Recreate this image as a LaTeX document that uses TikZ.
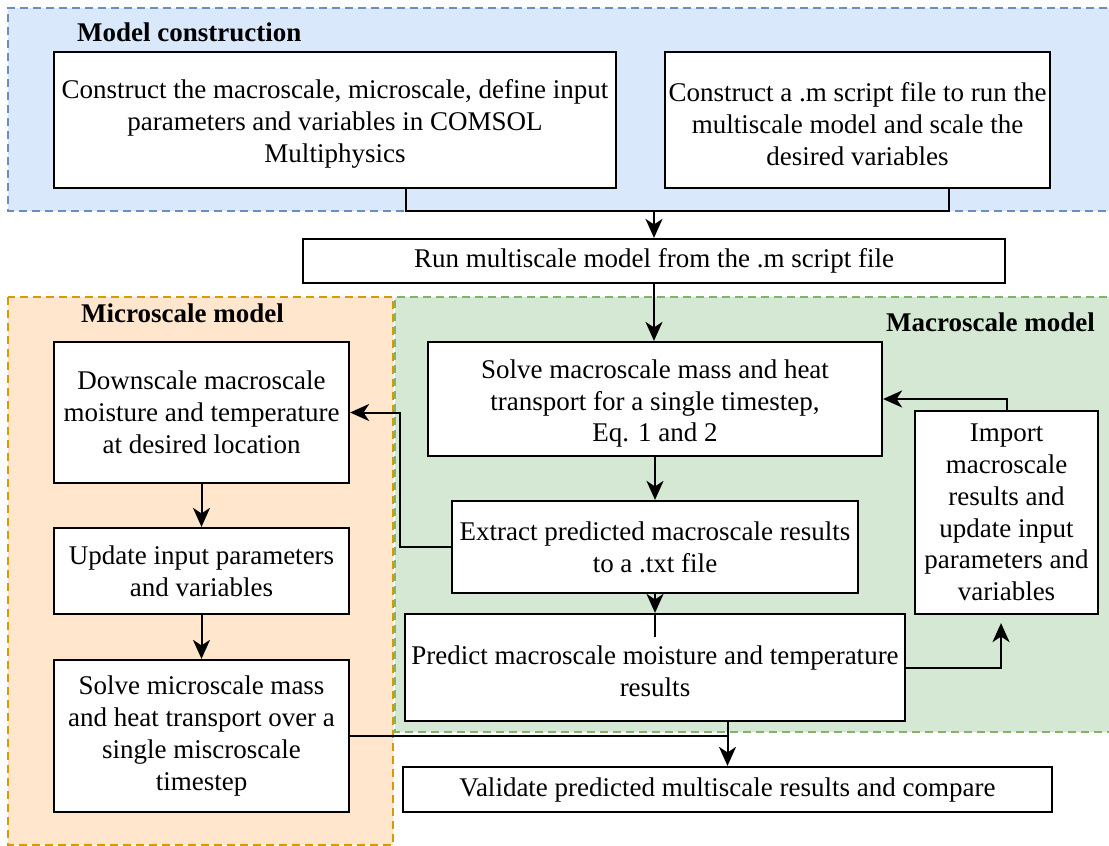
\documentclass[tikz,border=0pt]{standalone}
\usepackage{fontspec}
\setmainfont{Liberation Serif}
\usetikzlibrary{arrows.meta}
\definecolor{bluefill}{HTML}{DAE8FC}
\definecolor{bluestroke}{HTML}{6C8EBF}
\definecolor{orangefill}{HTML}{FFE6CC}
\definecolor{orangestroke}{HTML}{D79B00}
\definecolor{greenfill}{HTML}{D5E8D4}
\definecolor{greenstroke}{HTML}{82B366}
\tikzset{
  stepbox/.style={draw=black, line width=2.2pt, fill=white, align=center, inner sep=0pt,
    font=\fontsize{27}{31.8}\selectfont},
  region/.style={line width=1.5pt, dash pattern=on 8pt off 5pt},
  title/.style={font=\fontsize{27}{30}\selectfont\bfseries, inner sep=0pt},
  conn/.style={line width=2pt, draw=black},
  arr/.style={conn, -{Stealth[length=19pt,width=17pt,inset=5.5pt]}},
}
\begin{document}
\begin{tikzpicture}[x=1pt,y=-1pt]
\useasboundingbox (0,0) rectangle (1109,846);
\begin{scope}
\clip (0,0) rectangle (1109,846);
% regions
\fill[bluefill] (8,8) rectangle (1120,211);
\draw[region, bluestroke] (1120,8) -- (8,8) -- (8,211) -- (1120,211);
\fill[greenfill] (395,297) rectangle (1120,732);
\draw[region, greenstroke] (1120,297) -- (395,297) -- (395,732) -- (1120,732);
\filldraw[region, draw=orangestroke, fill=orangefill] (8,297) rectangle (393,845);
\end{scope}

% titles
\node[title, anchor=west] (tmc) at (77,32) {Model construction};
\node[title, anchor=west] (tmi) at (81,313) {Microscale model};
\node[title, anchor=east] (tma) at (1095,322) {Macroscale model};

% boxes
\node[stepbox, minimum width=562pt, minimum height=136pt] (b1) at (335,120)
  {\rule{0pt}{27pt}Construct the macroscale, microscale, define input\\parameters and variables in COMSOL\\Multiphysics};
\node[stepbox, minimum width=385pt, minimum height=136pt] (b2) at (857.5,120)
  {\rule{0pt}{27pt}Construct a .m script file to run the\\multiscale model and scale the\\desired variables};
\node[stepbox, minimum width=702pt, minimum height=44pt] (run) at (654,261)
  {Run multiscale model from the .m script file};
\node[stepbox, minimum width=454pt, minimum height=114pt] (smac) at (655,399)
  {\rule{0pt}{28pt}Solve macroscale mass and heat\\transport for a single timestep,\\Eq. 1 and 2};
\node[stepbox, minimum width=295pt, minimum height=141pt] (down) at (201.5,412.5)
  {Downscale macroscale\\moisture and temperature\\at desired location};
\node[stepbox, minimum width=295pt, minimum height=86pt] (upd) at (201.5,571)
  {Update input parameters\\and variables};
\node[stepbox, minimum width=295pt, minimum height=152pt] (smic) at (201.5,736)
  {Solve microscale mass\\and heat transport over a\\single miscroscale\\timestep};
\node[stepbox, minimum width=406pt, minimum height=92pt] (ext) at (655,547)
  {Extract predicted macroscale results\\to a .txt file};
\node[stepbox, minimum width=500pt, minimum height=107pt] (pred) at (655,667.5)
  {\rule{0pt}{26pt}Predict macroscale moisture and temperature\\results};
\node[stepbox, minimum width=183pt, minimum height=203pt] (imp) at (1006.5,512.5)
  {Import\\macroscale\\results and\\update input\\parameters and\\variables};
\node[stepbox, minimum width=649pt, minimum height=45pt] (val) at (727.5,789.5)
  {Validate predicted multiscale results and compare};

% connectors
\coordinate (j) at (654,211);
\draw[conn] (b1.south -| 406,0) -- (406,211) -- (949,211) -- (b2.south -| 949,0);
\draw[arr] (j) -- (run.north -| j);
\draw[arr] (run.south) -- (run.south |- smac.north);
\draw[arr] (smac.south) -- (ext.north);
\draw[arr] (ext.south) -- (pred.north);
\draw[conn] (pred.north) -- ++(0,24);
\draw[arr] (ext.west) -- ++(-51,0) |- (down.east);
\draw[arr] (down.south) -- (upd.north);
\draw[arr] (upd.south) -- (smic.north);
\draw[arr] (imp.north) |- (smac.east);
\draw[arr, shorten >=8pt] (pred.east) -| ([xshift=-5.5pt]imp.south);
\draw[arr] (smic.east) -| (val.north);
\draw[conn] (pred.south -| val.north) -- (val.north |- smic.east);
\end{tikzpicture}
\end{document}
